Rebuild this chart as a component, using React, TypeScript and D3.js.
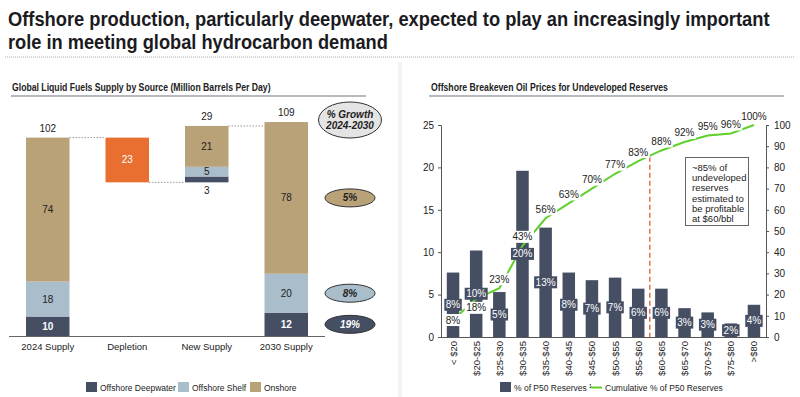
import { useEffect, useRef } from 'react';
import * as d3 from 'd3';

// Left panel: waterfall of supply by source (million bbl/d)
const supplyCats = ['2024 Supply', 'Depletion', 'New Supply', '2030 Supply'];
const deepwater = [10, 0, 3, 12];
const shelf = [18, 0, 5, 20];
const onshore = [74, 0, 21, 78];
const depletionValue = 23;
const totalLabels = ['102', '', '29', '109'];
const growthLabels = ['5%', '8%', '19%'];

// Right panel: breakeven prices
const priceCats = [
  '< $20', '$20-$25', '$25-$30', '$30-$35', '$35-$40', '$40-$45', '$45-$50',
  '$50-$55', '$55-$60', '$60-$65', '$65-$70', '$70-$75', '$75-$80', '>$80',
];
const reserveShare = [7.6, 10.2, 5.3, 19.6, 12.9, 7.6, 6.7, 7.0, 5.7, 5.7, 3.4, 2.9, 1.6, 3.8];
const shareLabels = ['8%', '10%', '5%', '20%', '13%', '8%', '7%', '7%', '6%', '6%', '3%', '3%', '2%', '4%'];
const cumulative = [8, 18, 23, 43, 56, 63, 70, 77, 83, 88, 92, 95, 96, 100];
const leftTicks = [0, 5, 10, 15, 20, 25];
const rightTicks = [0, 10, 20, 30, 40, 50, 60, 70, 80, 90, 100];
const breakevenPct = 85;
const noteLines = ['~85% of', 'undeveloped', 'reserves', 'estimated to', 'be profitable', 'at $60/bbl'];

const FONT = "'Liberation Sans', Arial, sans-serif";
const NARROW = "'Liberation Sans Narrow', 'Arial Narrow', 'Liberation Sans', Arial, sans-serif";
const C_DEEP = '#454e63';
const C_SHELF = '#aabdcb';
const C_ON = '#b9a178';
const C_DEPL = '#e86f30';
const C_GREEN = '#5fcf2c';
const C_TEXT = '#222';

type Sel = d3.Selection<SVGSVGElement, unknown, null, undefined>;

// condensed heading: squeeze a bold text horizontally to a target width
function heading(svg: Sel, t: string, x: number, y: number, size: number, width: number, color: string) {
  const g = svg.append('g');
  const txt = g.append('text').attr('font-family', NARROW).attr('font-weight', 700)
    .attr('font-size', size).attr('fill', color).text(t);
  const natural = (txt.node() as SVGTextElement).getComputedTextLength();
  g.attr('transform', `translate(${x},${y}) scale(${width / natural},1)`);
}

export default function App() {
  const svgRef = useRef<SVGSVGElement>(null);

  useEffect(() => {
    if (!svgRef.current) return;
    document.body.style.margin = '0';
    const svg = d3.select(svgRef.current) as Sel;
    svg.selectAll('*').remove();

    // Title
    heading(svg, 'Offshore production, particularly deepwater, expected to play an increasingly important', 8, 26, 21, 762, '#1b1b1f');
    heading(svg, 'role in meeting global hydrocarbon demand', 8, 49, 21, 380, '#1b1b1f');
    svg.append('line').attr('x1', 5).attr('x2', 795).attr('y1', 57).attr('y2', 57)
      .attr('stroke', '#aaa').attr('stroke-width', 1).attr('stroke-dasharray', '1 1');

    // panel separator
    svg.append('rect').attr('x', 398).attr('y', 62).attr('width', 4).attr('height', 335).attr('fill', '#f3f3f3');

    // Subtitles
    heading(svg, 'Global Liquid Fuels Supply by Source (Million Barrels Per Day)', 12, 91, 11, 259, C_TEXT);
    svg.append('line').attr('x1', 11).attr('x2', 366).attr('y1', 96).attr('y2', 96)
      .attr('stroke', '#9ea3ab').attr('stroke-width', 1.5);
    heading(svg, 'Offshore Breakeven Oil Prices for Undeveloped Reserves', 431, 91, 11, 237, C_TEXT);
    svg.append('line').attr('x1', 429).attr('x2', 784).attr('y1', 96).attr('y2', 96)
      .attr('stroke', '#9ea3ab').attr('stroke-width', 1.5);

    // ---------- Left waterfall ----------
    const x = d3.scaleBand<string>().domain(supplyCats).range([8, 326]).paddingInner(0.453).paddingOuter(0.2265);
    const y = d3.scaleLinear().domain([0, 109]).range([336, 124]);
    const bw = x.bandwidth();
    const left = svg.append('g').attr('font-family', FONT);

    const total0 = deepwater[0] + shelf[0] + onshore[0];
    const afterDepl = total0 - depletionValue;
    const bases = [0, afterDepl, afterDepl, 0];
    const segMids: number[] = [];

    // dotted connectors
    const newTop = afterDepl + deepwater[2] + shelf[2] + onshore[2];
    const conns: [string, string, number][] = [
      [supplyCats[0], supplyCats[1], total0],
      [supplyCats[1], supplyCats[2], afterDepl],
      [supplyCats[2], supplyCats[3], newTop],
    ];
    conns.forEach(([a, b, v]) => {
      left.append('line').attr('x1', x(a)! + bw).attr('x2', x(b)!).attr('y1', y(v)).attr('y2', y(v))
        .attr('stroke', '#999').attr('stroke-width', 1).attr('stroke-dasharray', '1.5 1.5');
    });

    supplyCats.forEach((cat, i) => {
      const x0 = x(cat)!;
      const cx = x0 + bw / 2;
      if (i === 1) {
        left.append('rect').attr('x', x0).attr('width', bw).attr('y', y(total0))
          .attr('height', y(afterDepl) - y(total0)).attr('fill', C_DEPL);
        left.append('text').attr('x', cx).attr('y', (y(total0) + y(afterDepl)) / 2 + 3.5)
          .attr('text-anchor', 'middle').attr('font-size', 10).attr('fill', '#fff').text(String(depletionValue));
        return;
      }
      let acc = bases[i];
      const segs: [number, string, string, boolean][] = [
        [deepwater[i], C_DEEP, '#fff', true],
        [shelf[i], C_SHELF, C_TEXT, false],
        [onshore[i], C_ON, C_TEXT, false],
      ];
      segs.forEach(([v, fill, tc, bold], k) => {
        const yTop = y(acc + v);
        const yBot = y(acc);
        left.append('rect').attr('x', x0).attr('width', bw).attr('y', yTop).attr('height', yBot - yTop).attr('fill', fill);
        const small = yBot - yTop < 8;
        left.append('text').attr('x', cx)
          .attr('y', small ? yBot + 12 : (yTop + yBot) / 2 + 3.5)
          .attr('text-anchor', 'middle').attr('font-size', 10)
          .attr('font-weight', bold && !small ? 700 : 400)
          .attr('fill', small ? C_TEXT : tc).text(String(v));
        if (i === 3) segMids[k] = (yTop + yBot) / 2;
        acc += v;
      });
      left.append('text').attr('x', cx).attr('y', y(acc) - 6).attr('text-anchor', 'middle')
        .attr('font-size', 10).attr('fill', C_TEXT).text(totalLabels[i]);
    });

    left.append('line').attr('x1', 9).attr('x2', 325).attr('y1', 336.5).attr('y2', 336.5)
      .attr('stroke', '#666').attr('stroke-width', 1);
    supplyCats.forEach((cat) => {
      left.append('text').attr('x', x(cat)! + bw / 2).attr('y', 350).attr('text-anchor', 'middle')
        .attr('font-size', 9.5).attr('fill', C_TEXT).text(cat);
    });

    // growth ellipses
    const eg = left.append('g');
    eg.append('ellipse').attr('cx', 350).attr('cy', 120).attr('rx', 31.5).attr('ry', 18)
      .attr('fill', '#e4e4e4').attr('stroke', '#333').attr('stroke-width', 1);
    ['% Growth', '2024-2030'].forEach((t, k) => {
      eg.append('text').attr('x', 350).attr('y', 118 + k * 11).attr('text-anchor', 'middle')
        .attr('font-size', 10).attr('font-weight', 700).attr('font-style', 'italic').attr('fill', C_TEXT).text(t);
    });
    const ellFill = [C_ON, C_SHELF, C_DEEP];
    const ellText = [C_TEXT, C_TEXT, '#fff'];
    const ellOrder = [2, 1, 0];
    growthLabels.forEach((g, k) => {
      const cy = segMids[ellOrder[k]];
      eg.append('ellipse').attr('cx', 350).attr('cy', cy).attr('rx', 25).attr('ry', 9)
        .attr('fill', ellFill[k]).attr('stroke', '#333').attr('stroke-width', 1);
      eg.append('text').attr('x', 350).attr('y', cy + 3.5).attr('text-anchor', 'middle')
        .attr('font-size', 10).attr('font-weight', 700).attr('font-style', 'italic').attr('fill', ellText[k]).text(g);
    });

    // left legend
    const legL: [string, string, number][] = [
      ['Offshore Deepwater', C_DEEP, 86],
      ['Offshore Shelf', C_SHELF, 178],
      ['Onshore', C_ON, 250],
    ];
    legL.forEach(([t, c, lx]) => {
      left.append('rect').attr('x', lx).attr('y', 382).attr('width', 11).attr('height', 10).attr('fill', c);
      left.append('text').attr('x', lx + 14).attr('y', 390.5).attr('font-size', 8.5).attr('fill', C_TEXT).text(t);
    });

    // ---------- Right chart ----------
    const xr = d3.scaleBand<string>().domain(priceCats).range([441, 766]).paddingInner(0.46).paddingOuter(0.25);
    const yl = d3.scaleLinear().domain([0, 25]).range([337, 125]);
    const yr = d3.scaleLinear().domain([0, 100]).range([337, 125]);
    const rb = xr.bandwidth();
    const right = svg.append('g').attr('font-family', FONT);

    const axL = right.append('g').attr('transform', 'translate(441,0)')
      .call(d3.axisLeft(yl).tickValues(leftTicks).tickSize(3).tickPadding(4));
    const axR = right.append('g').attr('transform', 'translate(766,0)')
      .call(d3.axisRight(yr).tickValues(rightTicks).tickSize(3).tickPadding(5));
    [axL, axR].forEach((ax) => {
      ax.select('.domain').attr('stroke', '#555');
      ax.selectAll('.tick line').attr('stroke', '#555');
      ax.selectAll('.tick text').attr('font-size', 10).attr('fill', C_TEXT).attr('font-family', FONT);
    });
    right.append('line').attr('x1', 441).attr('x2', 766).attr('y1', 337.5).attr('y2', 337.5).attr('stroke', '#555');

    right.selectAll('rect.bar').data(reserveShare).enter().append('rect').attr('class', 'bar')
      .attr('x', (_, i) => xr(priceCats[i])!).attr('width', rb)
      .attr('y', (d) => yl(d)).attr('height', (d) => yl(0) - yl(d)).attr('fill', C_DEEP);

    // breakeven dashed line
    const bx = (xr(priceCats[8])! + rb + xr(priceCats[9])!) / 2;
    right.append('line').attr('x1', bx).attr('x2', bx).attr('y1', yr(breakevenPct)).attr('y2', yr(0))
      .attr('stroke', '#e8542a').attr('stroke-width', 1.3).attr('stroke-dasharray', '5 3');

    const line = d3.line<number>()
      .x((_, i) => xr(priceCats[i])! + rb / 2)
      .y((d) => yr(d));
    right.append('path').attr('d', line(cumulative)).attr('fill', 'none').attr('stroke', C_GREEN).attr('stroke-width', 2);

    const boxedLabel = (g: d3.Selection<SVGGElement, unknown, null, undefined>, cx: number, cy: number,
      t: string, bg: string, fg: string) => {
      const grp = g.append('g');
      const rect = grp.append('rect');
      const txt = grp.append('text').attr('x', cx).attr('y', cy + 3.5).attr('text-anchor', 'middle')
        .attr('font-size', 10).attr('fill', fg).text(t);
      const w = (txt.node() as SVGTextElement).getComputedTextLength();
      rect.attr('x', cx - w / 2 - 1.5).attr('y', cy - 6).attr('width', w + 3).attr('height', 12).attr('fill', bg);
    };

    const barLab = right.append('g');
    reserveShare.forEach((v, i) => {
      const cx = xr(priceCats[i])! + rb / 2;
      boxedLabel(barLab as any, cx, (yl(v) + yl(0)) / 2, shareLabels[i], C_DEEP, '#fff');
    });
    const cumLab = right.append('g');
    cumulative.forEach((v, i) => {
      const cx = xr(priceCats[i])! + rb / 2;
      const off = i === 0 ? 0 : i === 1 ? 9 : -9;
      boxedLabel(cumLab as any, cx, yr(v) + off, `${v}%`, '#fff', C_TEXT);
    });

    // category labels
    priceCats.forEach((c) => {
      const cx = xr(c)! + rb / 2;
      right.append('text').attr('transform', `translate(${cx + 3.5},341) rotate(-90)`).attr('text-anchor', 'end')
        .attr('font-size', 9.5).attr('fill', C_TEXT).text(c);
    });

    // annotation box
    right.append('rect').attr('x', 685.5).attr('y', 157.5).attr('width', 63).attr('height', 68)
      .attr('fill', '#fff').attr('stroke', '#666').attr('stroke-width', 1);
    noteLines.forEach((t, k) => {
      right.append('text').attr('x', 692).attr('y', 171 + k * 10.2).attr('font-size', 9.5).attr('fill', C_TEXT).text(t);
    });

    // right legend
    right.append('rect').attr('x', 500).attr('y', 382).attr('width', 11).attr('height', 10).attr('fill', C_DEEP);
    const lt = right.append('text').attr('x', 514).attr('y', 390.5).attr('font-size', 8.5).attr('fill', C_TEXT);
    lt.append('tspan').text('% of P50 Reserves');
    lt.append('tspan').attr('dx', 2).attr('dy', -3).attr('font-size', 6).text('1');
    right.append('line').attr('x1', 591).attr('x2', 602).attr('y1', 387.5).attr('y2', 387.5)
      .attr('stroke', C_GREEN).attr('stroke-width', 2);
    right.append('text').attr('x', 605).attr('y', 390.5).attr('font-size', 8.5).attr('fill', C_TEXT)
      .text('Cumulative % of P50 Reserves');
  }, []);

  return <svg ref={svgRef} width={800} height={397} style={{ display: 'block', background: '#fff' }} />;
}
